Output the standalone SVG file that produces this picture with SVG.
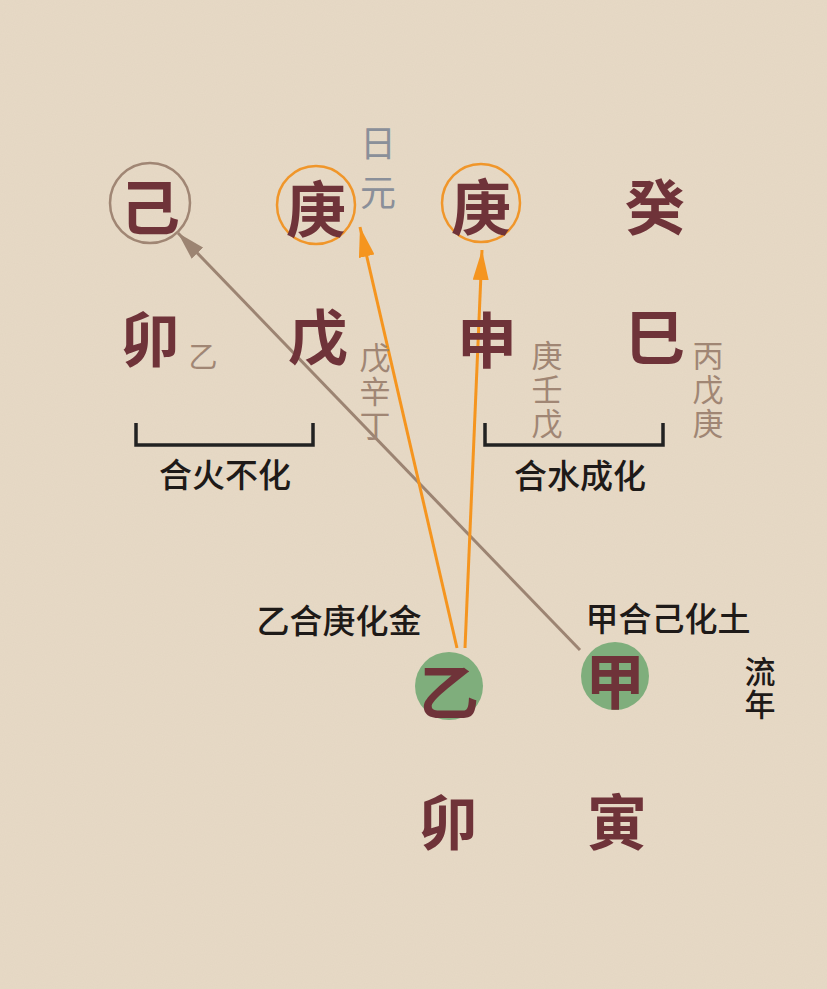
<svg xmlns="http://www.w3.org/2000/svg" width="827" height="989" viewBox="0 0 827 989">
<defs>
<filter id="paper" x="0" y="0" width="100%" height="100%">
<feTurbulence type="fractalNoise" baseFrequency="0.9" numOctaves="2" seed="3" result="n"/>
<feColorMatrix type="matrix" values="0 0 0 0 0.55  0 0 0 0 0.45  0 0 0 0 0.35  0 0 0 0.12 0"/>
<feComposite in2="SourceGraphic" operator="over"/>
</filter>
<marker id="ao" viewBox="0 0 30 16" refX="30" refY="8" markerWidth="30" markerHeight="16" markerUnits="userSpaceOnUse" orient="auto">
<path d="M0,0 L30,8 L0,16 Z" fill="#f5951f"/>
</marker>
<marker id="ab" viewBox="0 0 28 16" refX="28" refY="8" markerWidth="28" markerHeight="16" markerUnits="userSpaceOnUse" orient="auto">
<path d="M0,0 L28,8 L0,16 Z" fill="#9c8472"/>
</marker>
<style>
.big{font-family:"Noto Sans CJK SC","Noto Sans CJK TC",sans-serif;font-weight:700;font-size:60px;fill:#6f3339;text-anchor:middle;dominant-baseline:central}
.hid{font-family:"Noto Sans CJK SC",sans-serif;font-size:31px;fill:#a08674;text-anchor:middle;dominant-baseline:central;writing-mode:vertical-rl;letter-spacing:3px}
.hid1{font-family:"Noto Sans CJK SC",sans-serif;font-size:29px;fill:#a08674;text-anchor:middle;dominant-baseline:central}
.lab{font-family:"Noto Sans CJK SC",sans-serif;font-weight:500;font-size:33px;fill:#1e1a18;text-anchor:middle;dominant-baseline:central}
.vl{font-family:"Noto Sans CJK SC",sans-serif;font-weight:500;font-size:31px;fill:#1e1a18;text-anchor:middle;dominant-baseline:central;writing-mode:vertical-rl;letter-spacing:2px}
.ry{font-family:"Noto Sans CJK SC",sans-serif;font-size:36px;fill:#8a8f99;text-anchor:middle;dominant-baseline:central;writing-mode:vertical-rl;letter-spacing:13px}
.br{fill:none;stroke:#222;stroke-width:3.5}
</style>
</defs>
<rect width="827" height="989" fill="#e7dac6" filter="url(#paper)"/>

<g id="connectors">
<line x1="580" y1="650" x2="178" y2="233" stroke="#9c8472" stroke-width="3" marker-end="url(#ab)"/>
<line x1="457" y1="648" x2="360" y2="227" stroke="#f5951f" stroke-width="3" marker-end="url(#ao)"/>
<line x1="465" y1="648" x2="482" y2="250" stroke="#f5951f" stroke-width="3" marker-end="url(#ao)"/>
</g>

<g id="n-ji">
<circle cx="150" cy="203" r="40" fill="none" stroke="#a08674" stroke-width="2.5"/>
<text class="big" x="150" y="203">己</text>
</g>
<g id="n-geng1">
<circle cx="316" cy="205" r="39" fill="none" stroke="#f0962a" stroke-width="2.5"/>
<text class="big" x="316" y="205">庚</text>
</g>
<g id="n-riyuan">
<text class="ry" x="378" y="174">日元</text>
</g>
<g id="n-geng2">
<circle cx="481" cy="203" r="39" fill="none" stroke="#f0962a" stroke-width="2.5"/>
<text class="big" x="481" y="203">庚</text>
</g>
<g id="n-gui"><text class="big" x="655" y="203">癸</text></g>

<g id="n-mao1">
<text class="big" x="150" y="335">卯</text>
<text class="hid1" x="203" y="355">乙</text>
</g>
<g id="n-wu">
<text class="big" x="318" y="333">戊</text>
<text class="hid" x="375" y="393">戊辛丁</text>
</g>
<g id="n-shen">
<text class="big" x="487" y="336">申</text>
<text class="hid" x="547" y="391">庚壬戊</text>
</g>
<g id="n-si">
<text class="big" x="655" y="333">巳</text>
<text class="hid" x="708" y="391">丙戊庚</text>
</g>

<g id="n-bracket1">
<path class="br" d="M136,423 V445 H313 V423"/>
<text class="lab" x="225" y="473">合火不化</text>
</g>
<g id="n-bracket2">
<path class="br" d="M485,423 V445 H663 V423"/>
<text class="lab" x="580" y="474">合水成化</text>
</g>

<g id="n-label-yi"><text class="lab" x="339" y="619">乙合庚化金</text></g>
<g id="n-label-jia"><text class="lab" x="668" y="617">甲合己化土</text></g>

<g id="n-yi">
<circle cx="449" cy="686" r="34" fill="#7fae7c"/>
<text class="big" x="449" y="688">乙</text>
</g>
<g id="n-jia">
<circle cx="615" cy="676" r="34" fill="#7fae7c"/>
<text class="big" x="615" y="677">甲</text>
</g>
<g id="n-liunian">
<text class="vl" x="760" y="689">流年</text>
</g>
<g id="n-mao2"><text class="big" x="448" y="818">卯</text></g>
<g id="n-yin"><text class="big" x="617" y="818">寅</text></g>
</svg>
